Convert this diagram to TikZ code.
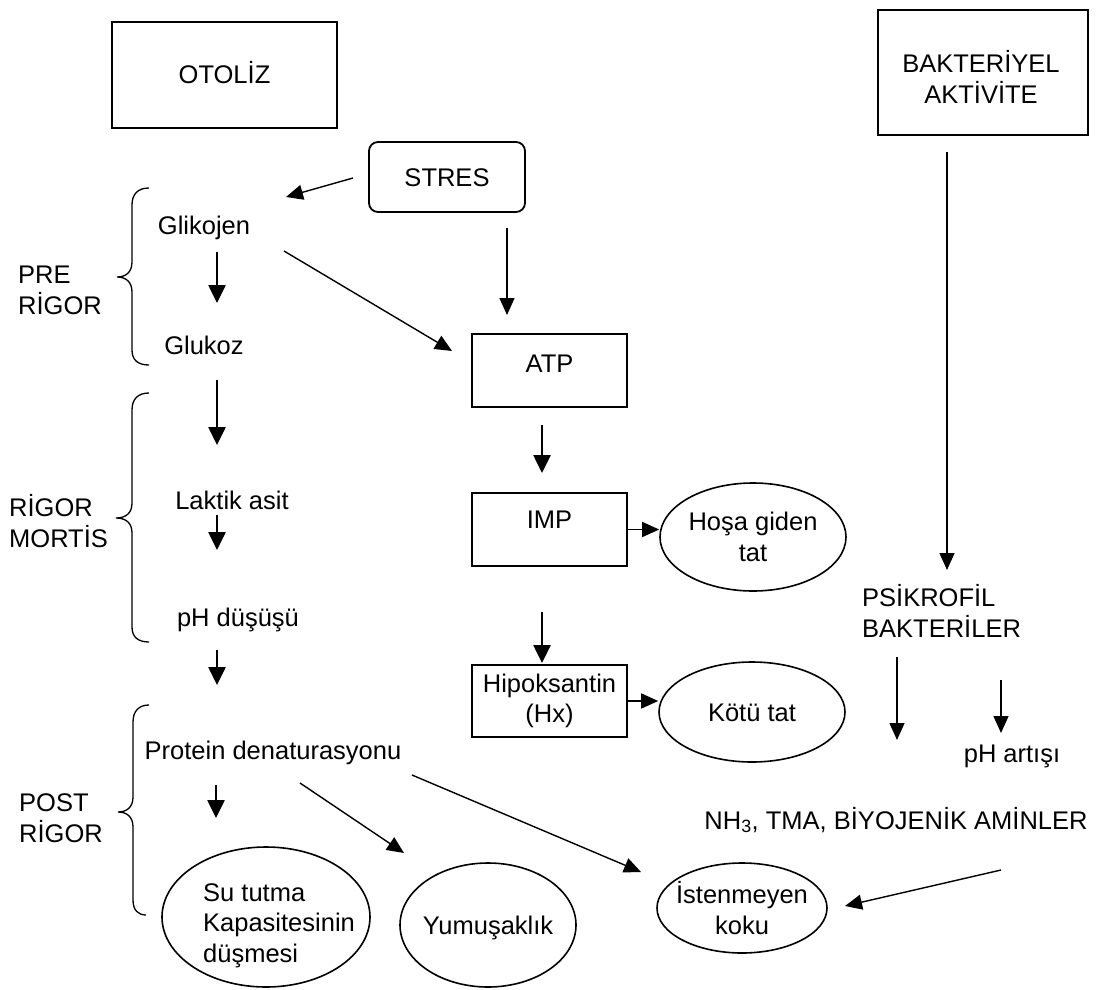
\documentclass[tikz,border=0pt]{standalone}
\usepackage{fontspec}
\setmainfont{Liberation Sans}
\usetikzlibrary{arrows.meta,shapes.geometric}
\newcommand\dfont{\fontsize{25.5pt}{30.5pt}\selectfont}
\begin{document}
\begin{tikzpicture}[x=1pt,y=-1pt,
  every node/.style={font=\dfont, inner sep=0pt},
  txt/.style={text height=18pt, text depth=0pt},
  box/.style={draw, line width=1.8pt, rectangle},
  oval/.style={draw, line width=1.6pt, ellipse, inner xsep=-25pt, inner ysep=0pt},
  bigarr/.style={line width=2.6pt, -{Triangle[length=18pt,width=17pt]}},
  smallarr/.style={line width=1.4pt, -{Triangle[length=17pt,width=15pt]}},
  bracestyle/.style={line width=1.3pt},
]
\useasboundingbox (0,0) rectangle (1100,990);

% boxes
\node[box, minimum width=225pt, minimum height=106pt, txt] (otoliz) at (224.5,75) {OTOLİZ};
\node[box, minimum width=210pt, minimum height=125pt] (bakt) at (983,72.5) {};
\node[anchor=base, align=center] (bakttext) at (981,103) {BAKTERİYEL\\AKTİVİTE};
\node[box, rounded corners=9pt, minimum width=156pt, minimum height=70pt, txt] (stres) at (447,177) {STRES};
\node[box, minimum width=155pt, minimum height=73pt, txt, text depth=15pt] (atp) at (549.5,370.5) {ATP};
\node[box, minimum width=155pt, minimum height=73pt, txt, text depth=21pt] (imp) at (549.5,529.5) {IMP};
\node[box, minimum width=155pt, minimum height=72pt, align=center] (hx) at (549.5,701) {Hipoksantin\\(Hx)};

% plain texts
\node[txt] (glik) at (204,225) {Glikojen};
\node[txt] (gluk) at (204,345) {Glukoz};
\node[txt] (lak) at (232,500) {Laktik asit};
\node[txt] (phd) at (238,617) {pH düşüşü};
\node[txt] (prot) at (273,750) {Protein denaturasyonu};
\node[anchor=base west, align=left] (psik) at (862,637) {PSİKROFİL\\BAKTERİLER};
\node[txt] (pha) at (1012,753) {pH artışı};
\node[txt] (nh) at (896,820) {NH\textsubscript{3}, TMA, BİYOJENİK AMİNLER};
\node[anchor=base west, align=left] (pre) at (18,314) {PRE\\RİGOR};
\node[anchor=base west, align=left] (rig) at (9,547) {RİGOR\\MORTİS};
\node[anchor=base west, align=left] (post) at (19,842) {POST\\RİGOR};

% ellipses
\node[oval, minimum width=186pt, minimum height=108pt, align=center] (hosa) at (753,537) {Hoşa giden\\tat};
\node[oval, minimum width=186pt, minimum height=100pt, txt] (kotu) at (752,712) {Kötü tat};
\node[oval, minimum width=208pt, minimum height=140pt] (su) at (266,917) {};
\node[anchor=base west, align=left] (sutext) at (203,962) {Su tutma\\Kapasitesinin\\düşmesi};
\node[oval, minimum width=176pt, minimum height=124pt, txt] (yum) at (488,925) {Yumuşaklık};
\node[oval, minimum width=170pt, minimum height=90pt, align=center] (ist) at (742,908) {İstenmeyen\\koku};

% braces
\draw[bracestyle] (149,188) .. controls (138,188) and (132,194) .. (132,205) -- (132,262)
  .. controls (132,272) and (126,277) .. (117,277) .. controls (126,277) and (132,282) .. (132,292)
  -- (132,350) .. controls (132,360) and (138,365) .. (149,365);
\draw[bracestyle] (149,393) .. controls (138,393) and (132,399) .. (132,410) -- (132,503)
  .. controls (132,513) and (126,518) .. (116,518) .. controls (126,518) and (132,523) .. (132,533)
  -- (132,627) .. controls (132,637) and (138,642) .. (149,642);
\draw[bracestyle] (149,705) .. controls (139,705) and (133,711) .. (133,722) -- (133,797)
  .. controls (133,807) and (127,812) .. (118,812) .. controls (127,812) and (133,817) .. (133,827)
  -- (133,900) .. controls (133,910) and (138,915) .. (146,915);

% arrow end points
\coordinate (a1s) at (217,252); \coordinate (a1e) at (217,303);
\coordinate (a2s) at (217,380); \coordinate (a2e) at (217,445);
\coordinate (a3s) at (217,515); \coordinate (a3e) at (217,550);
\coordinate (a4s) at (217,650); \coordinate (a4e) at (217,685);
\coordinate (a5s) at (216,785); \coordinate (a5e) at (216,818);
\coordinate (a6s) at (542,425); \coordinate (a6e) at (542,473);
\coordinate (a7s) at (542,612); \coordinate (a7e) at (542,663);
\coordinate (b1s) at (353,178); \coordinate (b1e) at (286,197);
\coordinate (b2s) at (284,251); \coordinate (b2e) at (452,351);
\coordinate (b3s) at (507,228); \coordinate (b3e) at (507,315);
\coordinate (b6s) at (947,152); \coordinate (b6e) at (947,570);
\coordinate (b7s) at (897,657); \coordinate (b7e) at (897,740);
\coordinate (b8s) at (1001,680); \coordinate (b8e) at (1001,733);
\coordinate (b9s) at (300,783); \coordinate (b9e) at (404,853);
\coordinate (b10s) at (412,775); \coordinate (b10e) at (641,872);
\coordinate (b11s) at (1001,870); \coordinate (b11e) at (845,906);

% thick arrows
\draw[bigarr] (a1s) -- (a1e);
\draw[bigarr] (a2s) -- (a2e);
\draw[bigarr] (a3s) -- (a3e);
\draw[bigarr] (a4s) -- (a4e);
\draw[bigarr] (a5s) -- (a5e);
\draw[bigarr] (a6s) -- (a6e);
\draw[bigarr] (a7s) -- (a7e);

% thin arrows
\draw[smallarr] (b1s) -- (b1e);
\draw[smallarr] (b2s) -- (b2e);
\draw[smallarr] (b3s) -- (b3e);
\draw[smallarr] (imp.east) -- (imp.east -| hosa.west);
\draw[smallarr] (hx.east) -- (hx.east -| kotu.west);
\draw[smallarr] (b6s) -- (b6e);
\draw[smallarr] (b7s) -- (b7e);
\draw[smallarr] (b8s) -- (b8e);
\draw[smallarr] (b9s) -- (b9e);
\draw[smallarr] (b10s) -- (b10e);
\draw[smallarr] (b11s) -- (b11e);
\end{tikzpicture}
\end{document}
